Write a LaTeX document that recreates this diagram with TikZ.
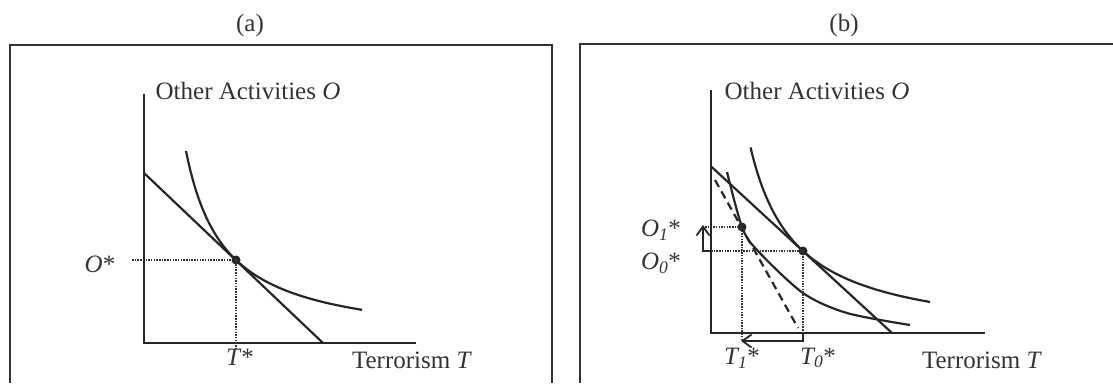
\documentclass[tikz,border=0pt]{standalone}
\usepackage{fontspec}
\setmainfont{Liberation Serif}
\usetikzlibrary{arrows.meta}

\tikzset{
  frame/.style={line width=2.8pt, black!80},
  axis/.style={line width=2.5pt, black!85},
  curve/.style={line width=2.2pt, black!85},
  guide/.style={line width=1.8pt, black!80, dash pattern=on 1.5pt off 1.2pt},
  newbudget/.style={line width=2.2pt, black!85, dash pattern=on 8pt off 5pt},
  dot/.style={circle, fill=black!85, inner sep=0pt, minimum size=9pt},
  shift arrow/.style={line width=1.8pt, black!85, -{Straight Barb[length=9pt, width=13pt, line width=1.8pt]}},
  lbl/.style={text=black!80, inner sep=0pt}
}

\begin{document}
\begin{tikzpicture}[x=1pt, y=-1pt, font=\fontsize{25}{30}\selectfont]
    \useasboundingbox (0,0) rectangle (1113,383);

    % Panel (a)
    \node[lbl] (titleA) at (250,25) {(a)};
    \draw[frame] (10,383) -- (10,45) -- (552,45) -- (552,383);

    % Axes (a)
    \coordinate (topA) at (144,94);
    \coordinate (oA) at (144,343);
    \coordinate (endA) at (416,343);
    \draw[axis] (topA) -- (oA) -- (endA);
    \node[lbl] (yLabelA) at (248,91) {Other Activities \textit{O}};
    \node[lbl] (xLabelA) at (412,360) {Terrorism \textit{T}};

    % Budget line and indifference curve (a)
    \coordinate (budA1) at (144,173);
    \coordinate (budA2) at (323,343);
    \draw[curve] (budA1) -- (budA2);
    \draw[curve] plot[domain=186:362, samples=80] (\x, {345-7565/(\x-147)});

    % Optimum (a)
    \node[dot] (eqA) at (236,260) {};
    \coordinate (oStarA) at (132,260);
    \coordinate (tStarA) at (236,350);
    \draw[guide] (oStarA) -- (eqA.center) -- (tStarA);
    \node[lbl] (oLabelA) at (100,264) {\textit{O}*};
    \node[lbl] (tLabelA) at (240,357) {\textit{T}*};

    % Panel (b)
    \node[lbl] (titleB) at (844,25) {(b)};
    \draw[frame] (580,383) -- (580,44) -- (1113,44);

    % Axes (b)
    \coordinate (topB) at (711,90);
    \coordinate (oB) at (711,333);
    \coordinate (endB) at (985,333);
    \draw[axis] (topB) -- (oB) -- (endB);
    \node[lbl] (yLabelB) at (817,91) {Other Activities \textit{O}};
    \node[lbl] (xLabelB) at (982,360) {Terrorism \textit{T}};

    % Old budget line, new (dashed) budget line
    \coordinate (budB1) at (711,166.4);
    \coordinate (budB2) at (892,333);
    \draw[curve] (budB1) -- (budB2);
    \coordinate (newB1) at (715,180);
    \coordinate (newB2) at (798,328);
    \draw[newbudget] (newB1) -- (newB2);

    % Indifference curves (b)
    \draw[curve] plot[domain=750.5:930, samples=80] (\x, {341.5-8908/(\x-704.6)});
    \draw[curve] plot[smooth] coordinates {(727,172) (742,227) (757,250) (803,293) (847,313) (910,325)};

    % Optima (b)
    \node[dot] (eq0) at (803,251) {};
    \node[dot] (eq1) at (742,227) {};
    \coordinate (o1Left) at (705,227);
    \coordinate (o0Left) at (711,251);
    \coordinate (t1Down) at (742,341);
    \coordinate (t0Down) at (803,333);
    \draw[guide] (o1Left) -- (eq1.center) -- (t1Down);
    \draw[guide] (o0Left) -- (eq0.center) -- (t0Down);

    % Shifts
    \coordinate (oTurn) at (703,251);
    \coordinate (oTip) at (703,225);
    \coordinate (tTurn) at (803,341);
    \coordinate (tTip) at (741,341);
    \draw[shift arrow] (o0Left) -- (oTurn) -- (oTip);
    \draw[shift arrow] (t0Down) -- (tTurn) -- (tTip);

    \node[lbl] (o1Label) at (661,230) {\textit{O\textsubscript{1}}*};
    \node[lbl] (o0Label) at (661,263) {\textit{O\textsubscript{0}}*};
    \node[lbl] (t1Label) at (742,358) {\textit{T\textsubscript{1}}*};
    \node[lbl] (t0Label) at (818,358) {\textit{T\textsubscript{0}}*};
\end{tikzpicture}
\end{document}
